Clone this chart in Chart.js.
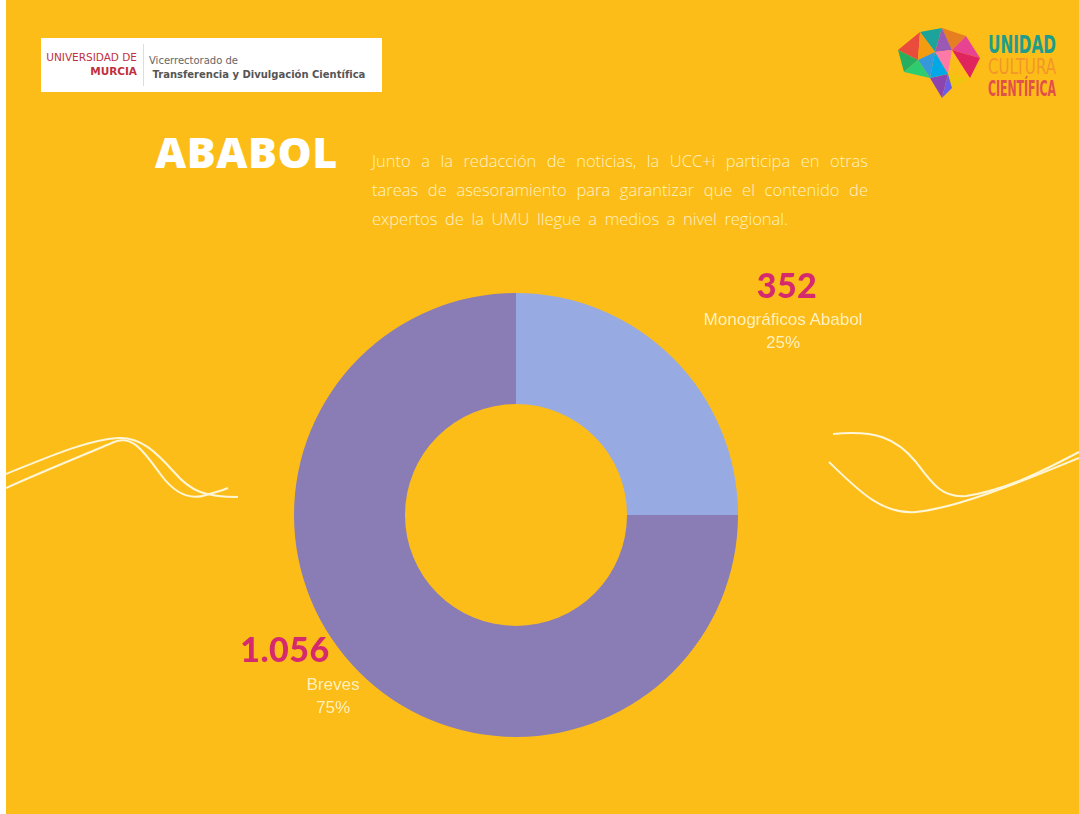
<!DOCTYPE html>
<html lang="es">
<head>
<meta charset="utf-8">
<title>ABABOL</title>
<script src="https://cdn.jsdelivr.net/npm/chart.js@4/dist/chart.umd.min.js"></script>
<style>
  html, body { margin: 0; padding: 0; background: #fff; }
  #page {
    position: absolute; left: 6px; top: 0; width: 1073px; height: 814px;
    background: #FDBD18; overflow: hidden;
  }
  .abs { position: absolute; }
  #title {
    left: 149px; top: 122px; font-family: "Open Sans", sans-serif; font-weight: 800;
    font-size: 43px; color: #fff; letter-spacing: 0.5px;
  }
  #intro {
    left: 366px; top: 146px; font-family: "Open Sans", sans-serif;
    font-weight: 300; font-size: 16.5px; line-height: 29px; color: #FFF1C4;
  }
  #intro div { text-align: justify; text-align-last: justify; white-space: nowrap; }
  #chartBox { left: 288px; top: 293px; width: 444px; height: 444px; }
  .num {
    font-family: Lato, "Open Sans", sans-serif; font-weight: 900; font-size: 34px;
    color: #D52A6E; text-align: center; width: 200px; letter-spacing: 0.5px;
  }
  .lbl {
    font-family: "Liberation Sans", Arial, sans-serif; font-size: 17px; color: #FFF0C0;
    text-align: center; width: 220px; line-height: 23px;
  }
  #logoLeft {
    left: 35px; top: 38px; width: 341px; height: 54px; background: #fff;
    font-family: "DejaVu Sans", sans-serif;
  }
</style>
</head>
<body>
<div id="page">
  <!-- logo Universidad de Murcia -->
  <div id="logoLeft" class="abs">
    <div class="abs" style="left:2px;top:12px;width:94px;text-align:right;font-size:10.5px;color:#C0313E;line-height:14px;">UNIVERSIDAD DE<br><b>MURCIA</b></div>
    <div class="abs" style="left:102px;top:6px;width:1px;height:42px;background:#ddd;"></div>
    <div class="abs" style="left:108px;top:16px;font-size:10px;color:#666;line-height:14px;">Vicerrectorado de<br><b style="color:#555;">&nbsp;Transferencia y Divulgación Científica</b></div>
  </div>

  <!-- logo Unidad Cultura Científica -->
  <svg class="abs" style="left:884px;top:22px;" width="185" height="82">
    <polygon points="8,28 30,10 28,38" fill="#E94B3C"/>
    <polygon points="30,10 52,6 45,30" fill="#1BA39C"/>
    <polygon points="28,38 30,10 45,30" fill="#F39C12"/>
    <polygon points="52,6 76,14 62,28" fill="#E67E22"/>
    <polygon points="45,30 52,6 62,28" fill="#9B59B6"/>
    <polygon points="76,14 90,36 62,28" fill="#E84393"/>
    <polygon points="8,28 28,38 14,50" fill="#27AE60"/>
    <polygon points="28,38 45,30 40,56" fill="#3498DB"/>
    <polygon points="45,30 62,28 58,52" fill="#FD79A8"/>
    <polygon points="62,28 90,36 80,56" fill="#E0245E"/>
    <polygon points="14,50 28,38 40,56" fill="#2ECC71"/>
    <polygon points="40,56 58,52 52,76" fill="#8E44AD"/>
    <polygon points="58,52 80,56 62,66" fill="#F1C40F"/>
    <polygon points="40,56 58,52 45,30" fill="#00A8E8"/>
    <polygon points="52,76 62,66 58,52" fill="#6C5CE7"/>
    <text x="98" y="31" font-family="DejaVu Sans Condensed, DejaVu Sans" font-weight="bold" font-size="25" fill="#1E9C8C" textLength="68" lengthAdjust="spacingAndGlyphs">UNIDAD</text>
    <text x="98" y="52" font-family="DejaVu Sans Condensed, DejaVu Sans" font-size="21" fill="#F2962A" textLength="68" lengthAdjust="spacingAndGlyphs">CULTURA</text>
    <text x="98" y="74" font-family="DejaVu Sans Condensed, DejaVu Sans" font-weight="bold" font-size="21" fill="#E2504A" textLength="68" lengthAdjust="spacingAndGlyphs">CIENTÍFICA</text>
  </svg>

  <!-- decorative lines -->
  <svg class="abs" style="left:0;top:0;" width="1073" height="814">
    <g fill="none" stroke="#FFF6D8" stroke-width="2">
      <path d="M0,474 C40,458 80,440 112,438 C135,437 150,452 168,472 C185,492 200,497 232,497"/>
      <path d="M0,488 C40,470 85,452 108,442 C128,434 140,455 155,475 C170,495 185,500 200,495 C210,492 218,490 222,488"/>
      <path d="M827,434 C870,430 890,438 910,462 C925,482 935,498 960,496 C1000,490 1035,472 1073,452"/>
      <path d="M823,462 C850,488 875,515 910,512 C950,508 1010,484 1073,458"/>
    </g>
  </svg>

  <div id="title" class="abs">ABABOL</div>
  <div id="intro" class="abs">
    <div style="width:496px;">Junto a la redacción de noticias, la UCC+i participa en otras</div>
    <div style="width:496px;">tareas de asesoramiento para garantizar que el contenido de</div>
    <div style="width:416px;">expertos de la UMU llegue a medios a nivel regional.</div>
  </div>

  <div id="chartBox" class="abs"><canvas id="myChart"></canvas></div>
  <div id="labels"></div>
</div>

<script>
'use strict';

// datos del grafico
let categories = ['Monográficos Ababol', 'Breves'];
let values = [352, 1056];
let percents = ['25%', '75%'];
let sliceColors = ['#98AAE2', '#8A7DB5'];

// posiciones de las etiquetas (centro del texto)
let labelSpots = [
  { x: 781, y: 264 },
  { x: 279, y: 628 }
];
let textSpots = [
  { x: 777, y: 308 },
  { x: 327, y: 673 }
];

function formatNumber(n) {
  return n.toString().replace(/\B(?=(\d{3})+(?!\d))/g, '.');
}

function renderLabels() {
  let labelsContainer = document.getElementById('labels');
  for (let i = 0; i < categories.length; i++) {
    let num = document.createElement('div');
    num.className = 'abs num';
    num.textContent = formatNumber(values[i]);
    num.style.left = (labelSpots[i].x - 100) + 'px';
    num.style.top = labelSpots[i].y + 'px';
    labelsContainer.appendChild(num);

    let lbl = document.createElement('div');
    lbl.className = 'abs lbl';
    lbl.innerHTML = categories[i] + '<br>' + percents[i];
    lbl.style.left = (textSpots[i].x - 110) + 'px';
    lbl.style.top = textSpots[i].y + 'px';
    labelsContainer.appendChild(lbl);
  }
}

function renderChart() {
  const ctx = document.getElementById('myChart');
  const config = {
    type: 'doughnut',
    data: {
      labels: categories,
      datasets: [
        {
          data: values,
          backgroundColor: sliceColors,
          borderWidth: 0
        }
      ]
    },
    options: {
      responsive: true,
      maintainAspectRatio: false,
      animation: false,
      cutout: '50%',
      layout: { padding: 0 },
      plugins: {
        legend: { display: false },
        tooltip: { enabled: false }
      }
    }
  };
  new Chart(ctx, config);
}

renderChart();
renderLabels();
</script>
</body>
</html>
